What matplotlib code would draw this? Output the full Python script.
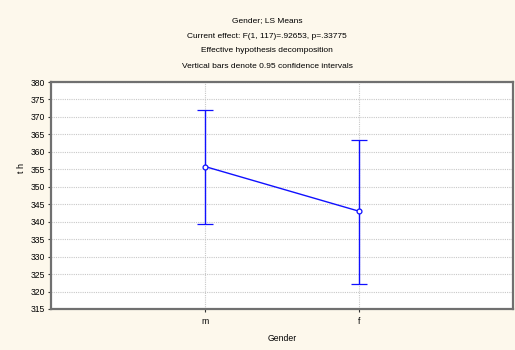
import matplotlib.pyplot as plt

plt.rcParams['font.family'] = ['Liberation Sans', 'DejaVu Sans']

groups = ['m', 'f']
means = [355.8, 343.0]
ci_low = [339.3, 322.3]
ci_high = [371.9, 363.4]

title_lines = ['Gender; LS Means',
               'Current effect: F(1, 117)=.92653, p=.33775',
               'Effective hypothesis decomposition',
               'Vertical bars denote 0.95 confidence intervals']

bg = '#fdf8ec'
fig = plt.figure(figsize=(5.15, 3.5), dpi=100, facecolor=bg)
ax = fig.add_axes([51 / 515, 1 - 309 / 350, 462 / 515, 227 / 350])
ax.set_facecolor('white')

x = list(range(1, len(groups) + 1))
yerr = [[m - lo for m, lo in zip(means, ci_low)],
        [hi - m for m, hi in zip(means, ci_high)]]
ax.errorbar(x, means, yerr=yerr, color='#1010ff', lw=1.0, capsize=6,
            capthick=1.0, marker='o', ms=3.5, mfc='white', mec='#1010ff',
            mew=0.9, zorder=3)

ax.set_xlim(0, 3)
ax.set_ylim(315, 380)
ax.set_yticks(range(315, 381, 5))
ax.set_xticks(x)
ax.set_xticklabels(groups)
ax.grid(True, color='#c8c8c8', lw=0.8, ls=(0, (1, 1)))
ax.set_axisbelow(True)

for s in ax.spines.values():
    s.set_color('#707070')
    s.set_linewidth(1.6)
ax.tick_params(labelsize=6.2, length=2.5, width=0.8, color='#333333',
               direction='out', pad=2)
ax.tick_params(axis='x', pad=3)

ax.set_xlabel('Gender', fontsize=6.2)
ax.xaxis.set_label_coords(0.5, -0.11)
ax.set_ylabel('t h', fontsize=6.5)
ax.yaxis.set_label_coords(-0.054, 0.62)

for i, line in enumerate(title_lines):
    fig.text(267 / 515, 1 - (21 + 15 * i) / 350, line, ha='center',
             va='center', fontsize=6)

fig.savefig('out.png', dpi=100, facecolor=bg)
